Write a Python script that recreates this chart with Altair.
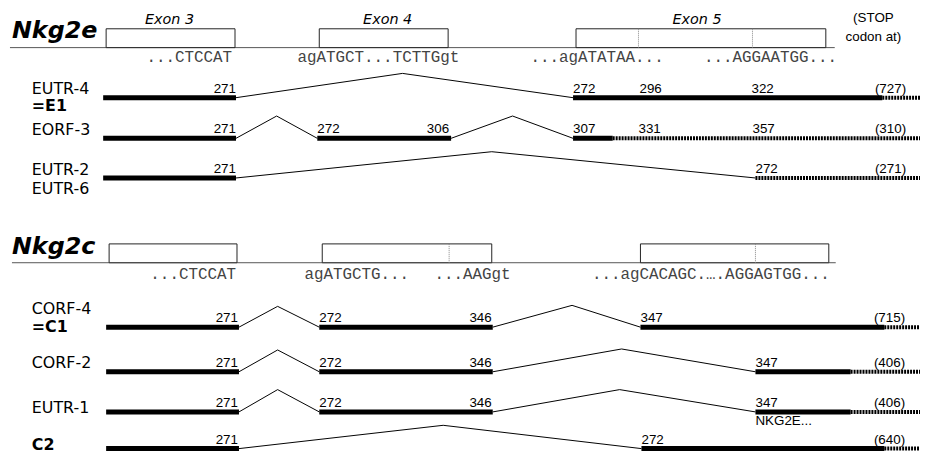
import altair as alt
import pandas as pd

# ---------------- gene headers ----------------
gene_names = ["Nkg2e", "Nkg2c"]
gene_title_x = [12, 12]
gene_title_y = [36, 254]
baseline_x1 = [10, 12]
baseline_x2 = [842, 843]
baseline_y = [46, 263]
box_top = [27, 244]

exon_gene = [0, 0, 0, 1, 1, 1]
exon_x1 = [107, 322, 581, 110, 325, 646]
exon_x2 = [237, 452, 833, 239, 496, 836]

divider_gene = [0, 0, 1, 1]
divider_x = [644, 759, 453, 762]

exon_label_text = ["Exon 3", "Exon 4", "Exon 5"]
exon_label_x = [171, 391, 703]
exon_label_y = [18, 18, 18]

stop_text = ["(STOP", "codon at)"]
stop_x = [881, 881]
stop_y = [16, 35]

seq_text = ["...CTCCAT", "agATGCT...TCTTGgt", "...agATATAA...", "...AGGAATGG...",
            "...CTCCAT", "agATGCTG...", "...AAGgt", "...agCACAGC.\u2026.AGGAGTGG..."]
seq_x = [234, 300, 535, 710, 238, 307, 515, 597]
seq_y = [56, 56, 56, 56, 274, 274, 274, 274]
seq_align = ["right", "left", "left", "left", "right", "left", "right", "left"]

# ---------------- transcripts ----------------
row_y = [96.5, 137.5, 177.5, 328, 373, 413.5, 450.5]

label_text = ["EUTR-4", "=E1", "EORF-3", "EUTR-2", "EUTR-6", "CORF-4", "=C1", "CORF-2", "EUTR-1", "C2"]
label_y = [87.5, 105, 129, 170, 189, 310, 328, 364, 410, 447]
label_bold = [False, True, False, False, False, False, True, False, False, True]

seg_row = [0, 0, 1, 1, 1, 2, 3, 3, 3, 4, 4, 4, 5, 5, 5, 6, 6]
seg_x1 = [104, 578, 104, 320, 578, 104, 107, 322, 646, 107, 322, 762, 107, 322, 762, 107, 647]
seg_x2 = [238, 890, 238, 455, 618, 238, 241, 497, 892, 241, 497, 858, 241, 497, 858, 241, 892]

hatch_row = [0, 1, 2, 3, 4, 5, 6]
hatch_x1 = [890, 618, 762, 892, 858, 858, 892]
hatch_x2 = [928, 928, 928, 928, 928, 928, 928]

intron_row = [0, 1, 1, 2, 3, 3, 4, 4, 5, 5, 6]
intron_x1 = [238, 238, 455, 238, 241, 497, 241, 497, 241, 497, 241]
intron_px = [406, 279, 517, 496, 280, 577, 280, 627, 280, 625, 447]
intron_py = [72, 115, 115, 151, 307, 306, 351, 350, 391, 391, 427]
intron_x2 = [578, 320, 578, 762, 322, 646, 322, 762, 322, 762, 647]

num_row = [0, 0, 0, 0, 0,
           1, 1, 1, 1, 1, 1, 1,
           2, 2, 2,
           3, 3, 3, 3, 3,
           4, 4, 4, 4, 4,
           5, 5, 5, 5, 5,
           6, 6, 6]
num_text = ["271", "272", "296", "322", "(727)",
            "271", "272", "306", "307", "331", "357", "(310)",
            "271", "272", "(271)",
            "271", "272", "346", "347", "(715)",
            "271", "272", "346", "347", "(406)",
            "271", "272", "346", "347", "(406)",
            "271", "272", "(640)"]
num_x = [238, 578, 645, 758, 914,
         238, 320, 453, 578, 644, 759, 914,
         238, 762, 914,
         240, 322, 496, 646, 913,
         240, 322, 496, 762, 913,
         240, 322, 496, 762, 913,
         240, 647, 913]
num_align = ["right", "left", "left", "left", "right",
             "right", "left", "right", "left", "left", "left", "right",
             "right", "left", "right",
             "right", "left", "right", "left", "right",
             "right", "left", "right", "left", "right",
             "right", "left", "right", "left", "right",
             "right", "left", "right"]

note_text = ["NKG2E..."]
note_x = [762]
note_y = [423]

# ---------------- tables ----------------
titles = pd.DataFrame({"x": gene_title_x, "y": gene_title_y, "t": gene_names})
baselines = pd.DataFrame({"x": baseline_x1, "x2": baseline_x2, "y": baseline_y})
boxes = pd.DataFrame({"x": exon_x1, "x2": exon_x2,
                      "y": [box_top[g] for g in exon_gene],
                      "y2": [baseline_y[g] for g in exon_gene]})
dividers = pd.DataFrame({"x": divider_x,
                         "y": [box_top[g] for g in divider_gene],
                         "y2": [baseline_y[g] for g in divider_gene]})
exlab = pd.DataFrame({"x": exon_label_x, "y": exon_label_y, "t": exon_label_text})
stops = pd.DataFrame({"x": stop_x, "y": stop_y, "t": stop_text})
seqs = pd.DataFrame({"x": seq_x, "y": seq_y, "t": seq_text, "a": seq_align})
labels = pd.DataFrame({"x": [32] * len(label_text), "y": label_y, "t": label_text, "b": label_bold})
segs = pd.DataFrame({"x": seg_x1, "x2": seg_x2, "y": [row_y[r] for r in seg_row]})
hatch = pd.DataFrame({"x": hatch_x1, "x2": hatch_x2, "y": [row_y[r] for r in hatch_row]})
intr = []
for r, a, px, py, b in zip(intron_row, intron_x1, intron_px, intron_py, intron_x2):
    intr.append({"x": a, "y": row_y[r], "x2": px, "y2": py})
    intr.append({"x": px, "y": py, "x2": b, "y2": row_y[r]})
intr = pd.DataFrame(intr)
nums = pd.DataFrame({"x": num_x, "y": [row_y[r] - 5 for r in num_row], "t": num_text, "a": num_align})
notes = pd.DataFrame({"x": note_x, "y": note_y, "t": note_text})

XS = alt.Scale(domain=[8, 928], nice=False, zero=False)
YS = alt.Scale(domain=[456, 8], nice=False, zero=False)


def X(f="x"):
    return alt.X(f + ":Q", scale=XS, axis=None)


def Y(f="y"):
    return alt.Y(f + ":Q", scale=YS, axis=None)


layers = []
layers.append(alt.Chart(baselines).mark_rule(color="#555", strokeWidth=1).encode(
    x=X(), x2="x2:Q", y=Y()))
layers.append(alt.Chart(boxes).mark_rect(fill="white", stroke="#222", strokeWidth=1).encode(
    x=X(), x2="x2:Q", y=Y(), y2="y2:Q"))
layers.append(alt.Chart(dividers).mark_rule(color="#888", strokeWidth=1, strokeDash=[1, 1]).encode(
    x=X(), y=Y(), y2="y2:Q"))
layers.append(alt.Chart(titles).mark_text(font="DejaVu Sans", fontSize=24, fontWeight="bold",
                                          fontStyle="italic", align="left", baseline="alphabetic",
                                          color="black").encode(x=X(), y=Y(), text="t:N"))
layers.append(alt.Chart(exlab).mark_text(font="DejaVu Sans", fontSize=14.5, fontStyle="italic",
                                         align="center", baseline="middle", color="black").encode(
    x=X(), y=Y(), text="t:N"))
layers.append(alt.Chart(stops).mark_text(font="Liberation Sans", fontSize=13.5, align="center",
                                         baseline="middle", color="black").encode(
    x=X(), y=Y(), text="t:N"))
for al in ["left", "right"]:
    layers.append(alt.Chart(seqs[seqs.a == al]).mark_text(font="Liberation Mono", fontSize=16,
                                                         align=al, baseline="middle",
                                                         color="#444").encode(
        x=X(), y=Y(), text="t:N"))
for bold in [False, True]:
    layers.append(alt.Chart(labels[labels.b == bold]).mark_text(
        font="DejaVu Sans", fontSize=16, fontWeight="bold" if bold else "normal",
        align="left", baseline="middle", color="black").encode(x=X(), y=Y(), text="t:N"))
layers.append(alt.Chart(intr).mark_rule(color="black", strokeWidth=1).encode(
    x=X(), y=Y(), x2="x2:Q", y2="y2:Q"))
layers.append(alt.Chart(segs).mark_rule(color="black", strokeWidth=5, strokeCap="butt").encode(
    x=X(), x2="x2:Q", y=Y()))
layers.append(alt.Chart(hatch).mark_rule(color="black", strokeWidth=4, strokeCap="butt",
                                         strokeDash=[2, 1]).encode(
    x=X(), x2="x2:Q", y=Y()))
for al in ["left", "right"]:
    layers.append(alt.Chart(nums[nums.a == al]).mark_text(font="Liberation Sans", fontSize=13.5,
                                                         align=al, baseline="alphabetic",
                                                         color="black").encode(
        x=X(), y=Y(), text="t:N"))
layers.append(alt.Chart(notes).mark_text(font="Liberation Sans", fontSize=13.5, align="left",
                                         baseline="middle", color="black").encode(
    x=X(), y=Y(), text="t:N"))

chart = alt.layer(*layers).properties(
    width=920, height=448, padding=0, autosize=alt.AutoSizeParams(type="none")
).configure_view(strokeWidth=0)

chart.save("out.html", embed_options={"renderer": "svg", "actions": False})
